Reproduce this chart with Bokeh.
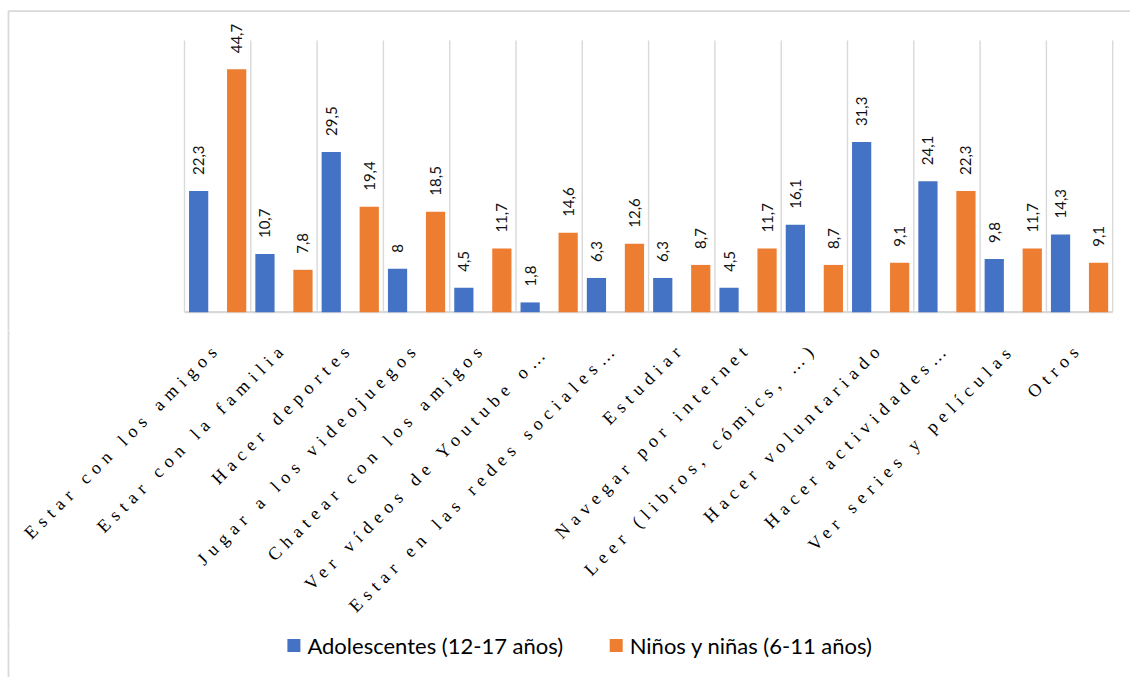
import math

from bokeh.core.properties import value
from bokeh.embed import file_html
from bokeh.layouts import column
from bokeh.models import ColumnDataSource, Range1d
from bokeh.plotting import figure
from bokeh.resources import INLINE
from bokeh.transform import dodge

# ---- data -------------------------------------------------------------
categories = [
    "Estar con los amigos",
    "Estar con la familia",
    "Hacer deportes",
    "Jugar a los videojuegos",
    "Chatear con los amigos",
    "Ver vídeos de Youtube o…",
    "Estar en las redes sociales…",
    "Estudiar",
    "Navegar por internet",
    "Leer (libros, cómics, …)",
    "Hacer voluntariado",
    "Hacer actividades…",
    "Ver series y películas",
    "Otros",
]
adolescentes = [22.3, 10.7, 29.5, 8, 4.5, 1.8, 6.3, 6.3, 4.5, 16.1, 31.3, 24.1, 9.8, 14.3]
ninos = [44.7, 7.8, 19.4, 18.5, 11.7, 14.6, 12.6, 8.7, 11.7, 8.7, 9.1, 22.3, 11.7, 9.1]
series_names = ["Adolescentes (12-17 años)", "Niños y niñas (6-11 años)"]
series_colors = ["#4472C4", "#ED7D31"]

# ---- layout constants (pixels) ---------------------------------------
WIDTH, HEIGHT = 1130, 677
PLOT_LEFT = 184.0        # left edge of the bar area
CAT_W = 66.3             # width of one category slot
BASE_Y = 311.7           # baseline of the bars
TOP_Y = 40.0             # top of the category separators
Y_MAX = 50.0
H_BARS, H_LABELS = 330, 300
H_LEGEND = HEIGHT - H_BARS - H_LABELS
GRID = "#d9d9d9"
BAR_SHIFT = 0.2866       # half distance between paired bars, in slots
BAR_W = 0.29

n = len(categories)
px_per_unit = (BASE_Y - TOP_Y) / Y_MAX
x_range = Range1d(-PLOT_LEFT / CAT_W, (WIDTH - PLOT_LEFT) / CAT_W)
frame_left = (8.0 - PLOT_LEFT) / CAT_W


def px_to_x(px):
    return (px - PLOT_LEFT) / CAT_W


def fmt(v):
    return f"{v:g}".replace(".", ",")


def make_fig(h, y_range):
    p = figure(width=WIDTH, height=h, x_range=x_range, y_range=y_range,
               output_backend="svg", toolbar_location=None,
               x_axis_location=None, y_axis_location=None,
               min_border=0, outline_line_color=None,
               background_fill_color="white", border_fill_color="white")
    p.grid.visible = False
    return p


# ---- bars and value labels --------------------------------------------
src = ColumnDataSource(dict(
    x=[i + 0.5 for i in range(n)],
    a=adolescentes,
    b=ninos,
    a_lbl=[fmt(v) for v in adolescentes],
    b_lbl=[fmt(v) for v in ninos],
))

y_bars = Range1d(-(H_BARS - BASE_Y) / px_per_unit, BASE_Y / px_per_unit)
pa = make_fig(H_BARS, y_bars)

# outer chart frame (top and left edges)
top_line = (BASE_Y - 10.7) / px_per_unit
pa.line(x=[frame_left, frame_left, x_range.end + 1],
        y=[y_bars.start - 1, top_line, top_line],
        line_color=GRID, line_width=1.8)

# category separators and baseline
bounds = list(range(n + 1))
pa.segment(x0=bounds, y0=[0] * (n + 1), x1=bounds, y1=[Y_MAX] * (n + 1),
           line_color=GRID, line_width=1.4)
pa.segment(x0=[0], y0=[0], x1=[n], y1=[0], line_color=GRID, line_width=2.2)

for col, lbl, shift, color in (("a", "a_lbl", -BAR_SHIFT, series_colors[0]),
                               ("b", "b_lbl", BAR_SHIFT, series_colors[1])):
    pa.vbar(x=dodge("x", shift), top=col, bottom=0, width=BAR_W, source=src,
            fill_color=color, line_color=None)
    pa.text(x=dodge("x", shift), y=col, text=lbl, source=src,
            angle=math.pi / 2, text_align="left", text_baseline="middle",
            y_offset=-16, text_font=value("Lato"), text_font_size="15px",
            text_color="#111111")

# ---- rotated category labels (letter-spaced serif) --------------------
LBL_FONT_PX = 18
LBL_SPACING = 6.0
# Times / Liberation Serif advance widths (1/1000 em)
serif_w = {
    " ": 250, "a": 444, "b": 500, "c": 444, "d": 500, "e": 444, "f": 333,
    "g": 500, "h": 500, "i": 278, "j": 278, "k": 500, "l": 278, "m": 778,
    "n": 500, "o": 500, "p": 500, "q": 500, "r": 333, "s": 389, "t": 278,
    "u": 500, "v": 500, "w": 722, "x": 500, "y": 500, "z": 444,
    "í": 278, "ó": 500, "é": 444, "E": 611, "H": 722, "C": 667, "J": 389,
    "V": 722, "Y": 722, "N": 722, "L": 611, "O": 722, "(": 333, ")": 333,
    ",": 250, ".": 250, "…": 1000,
}


def label_len(s):
    return (sum(serif_w.get(ch, 500) for ch in s) * LBL_FONT_PX / 1000.0
            + (len(s) - 1) * LBL_SPACING)


c45 = math.cos(math.pi / 4)
lens = [label_len(s) for s in categories]
lbl_src = ColumnDataSource(dict(
    x=[i + 0.5 for i in range(n)],
    y=[349.0 - H_BARS] * n,
    cat=categories,
    xo=[-4.0 - L * c45 for L in lens],
    yo=[L * c45 for L in lens],
))

pb = make_fig(H_LABELS, Range1d(H_LABELS, 0))
pb.line(x=[frame_left, frame_left], y=[-1, H_LABELS + 1], line_color=GRID, line_width=1.8)
pb.text(x="x", y="y", text="cat", x_offset="xo", y_offset="yo", source=lbl_src,
        angle=math.pi / 4, text_align="left", text_baseline="middle",
        text_font=value("Liberation Serif"), text_font_size=f"{LBL_FONT_PX}px",
        text_color="#000000")
pb.styles = {"letter-spacing": f"{LBL_SPACING}px"}

# ---- legend (swatch + label per series) --------------------------------
pc = make_fig(H_LEGEND, Range1d(H_LEGEND, 0))
pc.line(x=[frame_left, frame_left], y=[-1, H_LEGEND + 1], line_color=GRID, line_width=1.8)
LEG_Y = 645.0 - H_BARS - H_LABELS
swatch_px = [293.4, 615.7]
leg_src = ColumnDataSource(dict(
    x=[px_to_x(v) for v in swatch_px],
    y=[LEG_Y] * 2,
    color=series_colors,
    name=series_names,
))
pc.rect(x="x", y="y", width=13, height=13, width_units="screen",
        height_units="screen", fill_color="color", line_color=None, source=leg_src)
pc.text(x="x", y="y", text="name", x_offset=13.5, source=leg_src,
        text_align="left", text_baseline="middle",
        text_font=value("Lato"), text_font_size="22px", text_color="#000000")

layout = column(pa, pb, pc, spacing=0)
open("out.html", "w").write(file_html(layout, INLINE))
